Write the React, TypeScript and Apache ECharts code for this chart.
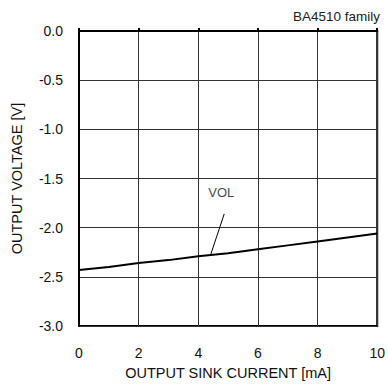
import React, { useEffect, useRef } from "react";
import * as echarts from "echarts";

const currentMA = [0, 1, 2, 3, 4, 5, 6, 7, 8, 9, 10];
const volV = [-2.43, -2.4, -2.36, -2.33, -2.29, -2.26, -2.22, -2.18, -2.14, -2.1, -2.06];
const yTicks = [-3, -2.5, -2, -1.5, -1, -0.5, 0];
const xTicks = [0, 2, 4, 6, 8, 10];
const leaderX = [4.87, 4.42];
const leaderY = [-1.86, -2.27];
const volLabelPos = [4.77, -1.64];

const FONT = "Liberation Sans, Arial, sans-serif";

export default function App() {
  const ref = useRef<HTMLDivElement>(null);
  useEffect(() => {
    const chart = echarts.init(ref.current!, null, { renderer: "svg" });
    chart.setOption({
      animation: false,
      textStyle: { fontFamily: FONT },
      grid: {
        left: 79,
        top: 31,
        right: 7,
        bottom: 54,
        show: true,
        borderColor: "#000",
        borderWidth: 2,
      },
      graphic: [
        {
          type: "text",
          right: 8,
          top: 9,
          style: { text: "BA4510 family", font: `13.5px ${FONT}`, fill: "#222" },
        },
      ],
      xAxis: {
        type: "value",
        min: xTicks[0],
        max: xTicks[xTicks.length - 1],
        interval: 2,
        name: "OUTPUT SINK CURRENT [mA]",
        nameLocation: "middle",
        nameGap: 39,
        nameTextStyle: { fontSize: 14.5, color: "#111", fontFamily: FONT },
        axisLine: { show: true, lineStyle: { color: "#000", width: 2 } },
        axisTick: { show: true, inside: true, length: 3, lineStyle: { color: "#000", width: 2 } },
        axisLabel: { fontSize: 14, color: "#111", margin: 20, fontFamily: FONT },
        splitLine: { show: true, lineStyle: { color: "#333", width: 1 } },
      },
      yAxis: {
        type: "value",
        min: yTicks[0],
        max: yTicks[yTicks.length - 1],
        interval: 0.5,
        name: "OUTPUT VOLTAGE [V]",
        nameLocation: "middle",
        nameGap: 55,
        nameTextStyle: { fontSize: 14.5, color: "#111", fontFamily: FONT },
        axisLine: { show: true, lineStyle: { color: "#000", width: 2 } },
        axisTick: { show: false },
        axisLabel: {
          fontSize: 14,
          color: "#111",
          margin: 16,
          fontFamily: FONT,
          formatter: (v: number) => v.toFixed(1),
        },
        splitLine: { show: true, lineStyle: { color: "#333", width: 1 } },
      },
      series: [
        {
          type: "line",
          data: currentMA.map((x, i) => [x, volV[i]]),
          showSymbol: false,
          symbol: "none",
          lineStyle: { color: "#000", width: 2 },
        },
        {
          type: "line",
          data: leaderX.map((x, i) => [x, leaderY[i]]),
          showSymbol: false,
          symbol: "none",
          lineStyle: { color: "#000", width: 1 },
        },
        {
          type: "scatter",
          data: [volLabelPos],
          symbolSize: 0,
          label: {
            show: true,
            position: "inside",
            formatter: "VOL",
            fontSize: 13,
            color: "#111",
            fontFamily: FONT,
          },
        },
      ],
    });
    return () => chart.dispose();
  }, []);
  return (
    <div
      ref={ref}
      style={{ position: "absolute", left: 0, top: 0, width: 388, height: 385, background: "#fff" }}
    />
  );
}
